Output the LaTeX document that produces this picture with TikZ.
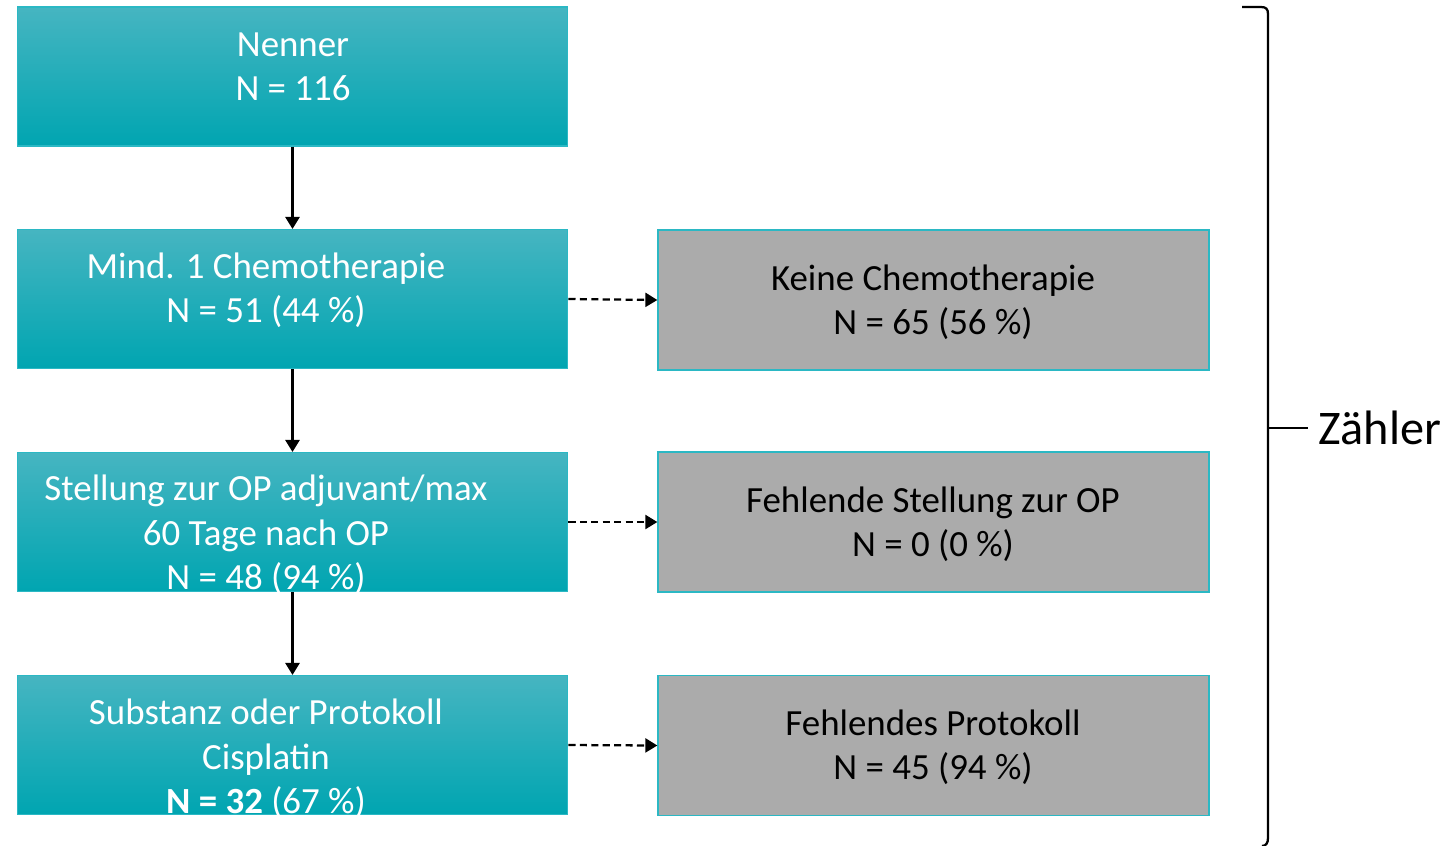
\documentclass[tikz,border=0pt]{standalone}
\usepackage{fontspec}
\setmainfont{Carlito}
\usetikzlibrary{arrows.meta}
\definecolor{tealtop}{HTML}{46B5C1}
\definecolor{tealmid}{HTML}{03B0BC}
\definecolor{tealbot}{HTML}{00A5B1}
\definecolor{tealedge}{HTML}{2BB8C4}
\definecolor{grayfill}{HTML}{ABABAB}
\tikzset{
  tealbox/.style={draw=tealedge, line width=0.6pt, top color=tealtop, middle color=tealmid, bottom color=tealbot,
    minimum width=11.02cm, minimum height=2.78cm, inner sep=0pt},
  graybox/.style={draw=tealedge, line width=0.8pt, fill=grayfill,
    minimum width=11.02cm, minimum height=2.8cm, inner sep=0pt},
  wtext/.style={text=white, align=center, font=\fontsize{21}{25.2}\selectfont, inner sep=0pt},
  btext/.style={text=black, align=center, font=\fontsize{21}{25.2}\selectfont, inner sep=0pt},
  flow/.style={line width=1.4pt, -{Triangle[length=0.24cm,width=0.28cm]}},
  side/.style={line width=1.3pt, dash pattern=on 4pt off 2.5pt, -{Triangle[length=0.24cm,width=0.28cm]}},
}
\begin{document}
\begin{tikzpicture}[x=0.02cm,y=-0.02cm]
\useasboundingbox (0,0) rectangle (1445,846);
\fill[white] (0,0) rectangle (1445,846);
% teal boxes
\node[tealbox] (n1) at (292.5,76.5) {};
\node[tealbox] (n2) at (292.5,299) {};
\node[tealbox] (n3) at (292.5,522) {};
\node[tealbox] (n4) at (292.5,745) {};
% gray boxes
\node[graybox] (g1) at (933.5,300) {};
\node[graybox] (g2) at (933.5,522) {};
\node[graybox] (g3) at (933.5,745.5) {};
% texts
\node[wtext] (t1) at (293,67) {Nenner\\N = 116};
\node[wtext] (t2) at (266,290) {Mind. 1 Chemotherapie\\N = 51 (44 \%)};
\node[wtext] (t3) at (266,535) {Stellung zur OP adjuvant/max\\60 Tage nach OP\\N = 48 (94 \%)};
\node[wtext] (t4) at (266,759) {Substanz oder Protokoll\\Cisplatin\\\textbf{N = 32} (67 \%)};
\node[btext] (u1) at (933,302.5) {Keine Chemotherapie\\N = 65 (56 \%)};
\node[btext] (u2) at (933,524) {Fehlende Stellung zur OP\\N = 0 (0 \%)};
\node[btext] (u3) at (933,747) {Fehlendes Protokoll\\N = 45 (94 \%)};
% arrows
\draw[flow] (n1.south) -- (n2.north);
\draw[flow] (n2.south) -- (n3.north);
\draw[flow] (n3.south) -- (n4.north);
\draw[side] (n2.east) -- (g1.west);
\draw[side] (n3.east) -- (g2.west);
\draw[side] (n4.east) -- (g3.west);
% bracket
\coordinate (bt) at (1242,7);
\coordinate (bb) at (1262,846);
\coordinate (bm) at (1268,428);
\coordinate (bx) at (1308,428);
\draw[line width=1.3pt] (bt) -- (1261,7) .. controls (1266,7) and (1268,9) .. (1268,14) -- (1268,838) .. controls (1268,843) and (1266,846) .. (bb);
\node[font=\fontsize{27.5}{34}\selectfont, anchor=west, inner sep=0pt] (z) at (1318,428) {Zähler};
\draw[line width=0.8pt] (bm) -- (bx);
\end{tikzpicture}
\end{document}
